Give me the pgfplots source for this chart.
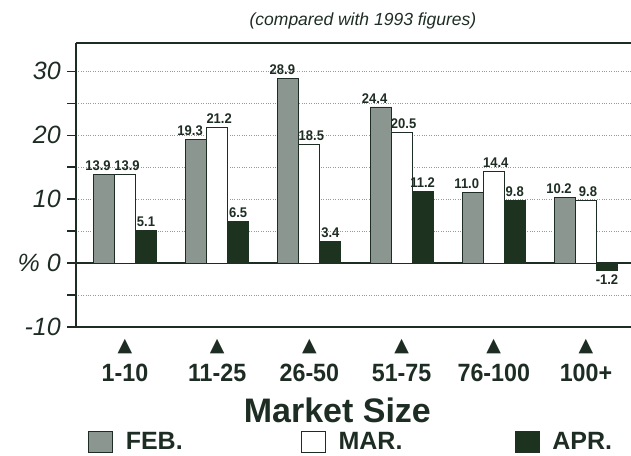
\documentclass[border=0pt]{standalone}
\usepackage{pgfplots}
\pgfplotsset{compat=1.18}
\usepackage{fontspec}
\setmainfont{Liberation Sans}
\newfontfamily\symf{DejaVu Sans}
\newfontfamily\condf[FakeStretch=0.93]{Liberation Sans}
\definecolor{textc}{RGB}{30,45,35}
\definecolor{febc}{RGB}{140,150,145}
\definecolor{aprc}{RGB}{30,50,32}
\definecolor{gridc}{RGB}{150,155,150}
\begin{document}
\begin{tikzpicture}
\begin{axis}[
  scale only axis, width=555pt, height=284pt,
  xmin=-0.531, xmax=5.488, ymin=-10, ymax=34.4,
  axis x line*=box, axis y line*=left,
  axis line style={draw=textc, line width=1.6pt, -},
  ybar=0pt, bar width=21pt,
  xtick={0,1,2,3,4,5},
  xticklabels={1-10,11-25,26-50,51-75,76-100,100+},
  x tick style={draw=none},
  xticklabel style={font=\condf\bfseries\fontsize{25}{30}\selectfont, text=textc, anchor=base, inner sep=0pt, yshift=-45pt},
  extra x ticks={0,1,2,3,4,5},
  extra x tick labels={▲,▲,▲,▲,▲,▲},
  extra x tick style={xticklabel style={font=\symf\fontsize{19}{20}\selectfont, yshift=30pt}},
  ytick={-10,10,20,30},
  yticklabels={-10,10,20,30},
  minor ytick={-5,5,15,25},
  extra y ticks={0},
  extra y tick labels={\% 0},
  extra y tick style={grid=major, major grid style={solid, line width=1.8pt, draw=textc}},
  ymajorgrids, yminorgrids,
  major grid style={dotted, gridc, line width=0.8pt},
  minor grid style={dotted, gridc, line width=0.8pt},
  tick align=outside,
  major tick length=9pt, minor tick length=9pt,
  y tick style={draw=textc, line width=1.2pt},
  yticklabel style={font=\itshape\fontsize{25}{30}\selectfont, text=textc, inner sep=0pt, anchor=east, xshift=-6pt},
  nodes near coords,
  every node near coord/.append style={font=\condf\bfseries\fontsize{14}{16}\selectfont, text=textc},
  /pgf/number format/.cd, fixed, fixed zerofill, precision=1, assume math mode=true,
  /pgfplots/.cd,
  title={(compared with 1993 figures)},
  title style={at={(axis description cs:0.517,1)}, anchor=base, yshift=12pt, inner sep=0pt, font=\itshape\fontsize{17.5}{20}\selectfont, text=textc},
  xlabel={Market Size},
  xlabel style={at={(axis description cs:0.471,0)}, anchor=base, yshift=-95pt, inner sep=0pt, font=\bfseries\fontsize{34}{40}\selectfont, text=textc},
  legend columns=3,
  legend style={at={(axis description cs:0.0216,0)}, anchor=north west, yshift=-104pt, draw=none, fill=none, inner sep=0pt, outer sep=0pt, font=\bfseries\fontsize{25}{30}\selectfont, text=textc, cells={anchor=base west}, nodes={inner sep=0pt}, /tikz/every odd column/.append style={column sep=13pt}, /tikz/every even column/.append style={column sep=0pt}},
]
\addplot[fill=febc, draw=textc, line width=0.8pt,
  every node near coord/.append style={xshift=-6pt},
  legend image code/.code={\draw[fill=febc, draw=textc, line width=0.8pt] (0pt,-3pt) rectangle (24pt,18pt);}]
  coordinates {(0,13.9) (1,19.3) (2,28.9) (3,24.4) (4,11.0) (5,10.2)};
\addplot[fill=white, draw=textc, line width=0.8pt,
  every node near coord/.append style={xshift=2pt},
  legend image code/.code={\draw[fill=white, draw=textc, line width=0.8pt] (0pt,-3pt) rectangle (24pt,18pt);}]
  coordinates {(0,13.9) (1,21.2) (2,18.5) (3,20.5) (4,14.4) (5,9.8)};
\addplot[fill=aprc, draw=aprc, line width=0.8pt,
  legend image code/.code={\draw[fill=aprc, draw=aprc, line width=0.8pt] (0pt,-3pt) rectangle (24pt,18pt);}]
  coordinates {(0,5.1) (1,6.5) (2,3.4) (3,11.2) (4,9.8) (5,-1.2)};
\legend{\makebox[175pt][l]{FEB.},\makebox[176pt][l]{MAR.},APR.}
\end{axis}
\pgfresetboundingbox
\path[use as bounding box] ([shift={(-76pt,-128pt)}]current axis.south west) rectangle ([shift={(0pt,43pt)}]current axis.north east);
\end{tikzpicture}
\end{document}
